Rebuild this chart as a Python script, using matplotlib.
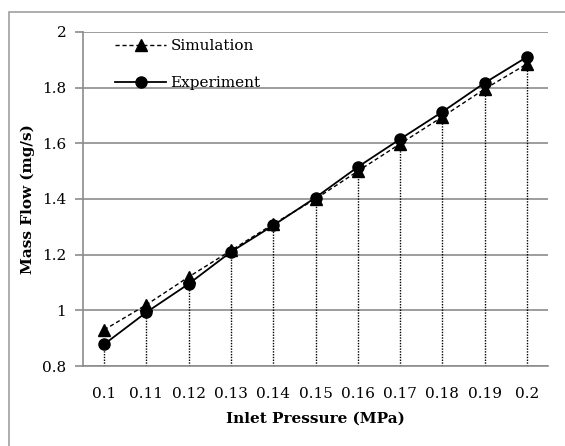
import numpy as np
import matplotlib.pyplot as plt
from matplotlib.patches import Rectangle

# data
pressure_labels = ["0.1", "0.11", "0.12", "0.13", "0.14", "0.15",
                   "0.16", "0.17", "0.18", "0.19", "0.2"]
simulation = [0.93, 1.02, 1.12, 1.215, 1.31, 1.40, 1.50, 1.598, 1.695, 1.795, 1.885]
experiment = [0.878, 0.993, 1.095, 1.21, 1.305, 1.405, 1.515, 1.615, 1.713, 1.817, 1.91]

y_ticks = [0.8, 1.0, 1.2, 1.4, 1.6, 1.8, 2.0]
y_tick_labels = ["0.8", "1", "1.2", "1.4", "1.6", "1.8", "2"]

plt.rcParams['font.family'] = ['DejaVu Serif']
fs = 11

W, H = 565, 446
fig = plt.figure(figsize=(W / 100, H / 100), dpi=100)

# outer chart border (only left and top edges visible)
fig.patches.append(Rectangle((9 / W, -0.1), 1.2, 1 - 12 / H + 0.1,
                             transform=fig.transFigure, fill=False,
                             edgecolor='#a0a0a0', linewidth=1.2))

ax = fig.add_axes([83 / W, 1 - 366 / H, (548 - 83) / W, (366 - 32) / H])

x = np.arange(len(pressure_labels))
grid_color = '#8c8c8c'

# drop lines from the data down to the axis
low = np.minimum(simulation, experiment)
ax.vlines(x, 0.8, low, colors='black', linestyles=(0, (1, 1)), linewidth=1.0, zorder=2)

ax.plot(x, simulation, color='black', linestyle=(0, (3, 2)), linewidth=1.0,
        marker='^', markersize=8, label='Simulation', zorder=4)
ax.plot(x, experiment, color='black', linestyle='-', linewidth=1.3,
        marker='o', markersize=8, label='Experiment', zorder=3)

ax.set_xlim(-0.5, len(pressure_labels) - 0.5)
ax.set_ylim(0.8, 2.0)
ax.set_yticks(y_ticks)
ax.set_yticklabels(y_tick_labels, fontsize=fs)
ax.set_xticks(x)
ax.set_xticklabels(pressure_labels, fontsize=fs)
ax.tick_params(axis='x', length=0, pad=15)
ax.tick_params(axis='y', length=6, color=grid_color, width=1.2, pad=6)

ax.grid(True, axis='y', color=grid_color, linewidth=1.2)
ax.set_axisbelow(True)
for side in ['top', 'right']:
    ax.spines[side].set_visible(False)
for side in ['left', 'bottom']:
    ax.spines[side].set_color(grid_color)
    ax.spines[side].set_linewidth(1.2)

ax.set_xlabel("Inlet Pressure (MPa)", fontsize=fs, fontweight='bold', labelpad=8)
ax.set_ylabel("Mass Flow (mg/s)", fontsize=fs, fontweight='bold', labelpad=5)

ax.legend(loc='upper left', bbox_to_anchor=(0.04, 1.02), frameon=False,
          fontsize=fs, handlelength=3.3, handletextpad=0.3, labelspacing=1.5)

fig.savefig("out.png", dpi=100)
